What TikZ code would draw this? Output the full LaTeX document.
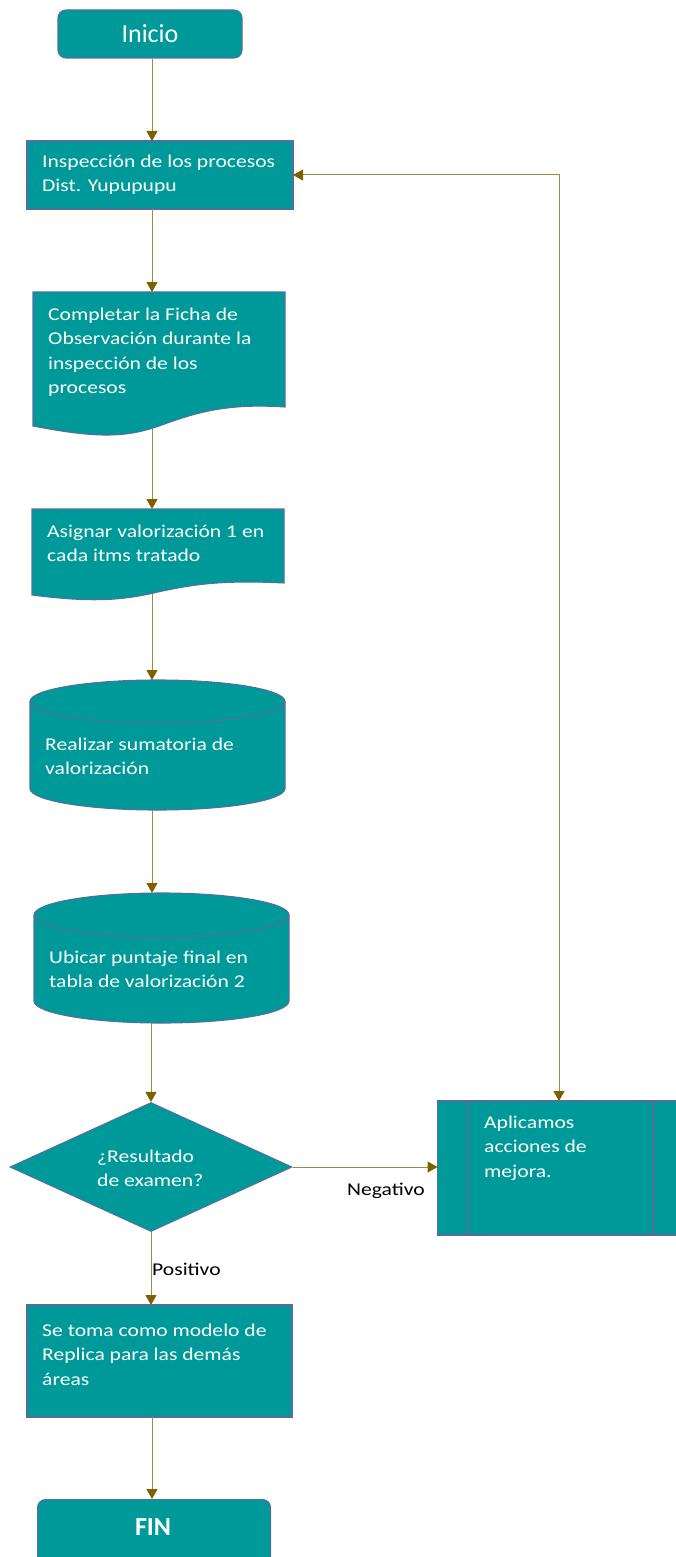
\documentclass[tikz,border=0pt]{standalone}
\usepackage{fontspec}
\setmainfont{Carlito}
\newfontfamily\wide{Carlito}[FakeStretch=1.2]
\usetikzlibrary{arrows.meta,shapes.geometric,calc}
\definecolor{teal1}{RGB}{0,153,153}
\definecolor{bord}{RGB}{84,110,160}
\definecolor{lnc}{RGB}{160,138,70}
\definecolor{tipc}{RGB}{127,96,0}
\newcommand\fl{\rule{0pt}{18pt}}
\begin{document}
\begin{tikzpicture}[x=1pt,y=-1pt,
 shp/.style={draw=bord,fill=teal1,line width=1.1pt},
 box/.style={shp,rectangle,inner sep=0pt,outer sep=0pt,anchor=north west},
 ghost/.style={rectangle,inner sep=0pt,outer sep=0pt,anchor=north west},
 txt/.style={text=white,font=\wide\fontsize{18}{24.5}\selectfont,align=left,inner sep=0pt,anchor=north west},
 lbl/.style={text=black,font=\wide\fontsize{18}{22}\selectfont,inner sep=0pt,anchor=base west},
 arr/.style={draw=lnc,line width=1pt,-{Triangle[length=10pt,width=11pt,color=tipc]}},
 big/.style={text=white,font=\fontsize{26}{30}\selectfont},
]
\useasboundingbox (0,0) rectangle (676,1557);
\clip (0,0) rectangle (676,1557);
\coordinate (ax) at (152,0);
\coordinate (fb) at (559,0);

% Inicio
\node[shp,rounded corners=8pt,minimum width=184pt,minimum height=48pt,inner sep=0pt,big] (inicio) at (150,34) {Inicio};

% Box 1
\node[box,minimum width=266pt,minimum height=68pt] (box1) at (27,141) {};
\node[txt] (t1) at (42,149) {\fl Inspección de los procesos\\Dist. Yupupupu};

% Document 1
\node[ghost,minimum width=252pt,minimum height=136pt] (doc1) at (33,292) {};
\draw[shp] (doc1.north west) -- (doc1.north east) -- (285,407)
  .. controls (225,403) and (195,413) .. (159,426)
  .. controls (125,438) and (95,438) .. (33,426) -- cycle;
\node[txt] (t2) at (48,302) {\fl Completar la Ficha de\\Observación durante la\\inspección de los\\procesos};

% Document 2
\node[ghost,minimum width=252pt,minimum height=85pt] (doc2) at (32,509) {};
\draw[shp] (doc2.north west) -- (doc2.north east) -- (284,583)
  .. controls (224,580) and (194,584) .. (158,592)
  .. controls (124,600) and (94,603) .. (32,595) -- cycle;
\node[txt] (t3) at (47,519) {\fl Asignar valorización 1 en\\cada itms tratado};

% Cylinder 1
\node[ghost,minimum width=255pt,minimum height=130pt] (cyl1) at (30,680) {};
\draw[shp] (30,701.5) -- (30,788.5) arc[start angle=180,end angle=360,x radius=127.5pt,y radius=21.5pt]
  -- (285,701.5) arc[start angle=0,end angle=180,x radius=127.5pt,y radius=21.5pt] -- cycle;
\draw[draw=bord,line width=1.1pt] (30,701.5) arc[start angle=180,end angle=360,x radius=127.5pt,y radius=21.5pt];
\node[txt] (t4) at (45,732) {\fl Realizar sumatoria de\\valorización};

% Cylinder 2
\node[ghost,minimum width=255pt,minimum height=130pt] (cyl2) at (34,893) {};
\draw[shp] (34,915) -- (34,1001) arc[start angle=180,end angle=360,x radius=127.5pt,y radius=22pt]
  -- (289,915) arc[start angle=0,end angle=180,x radius=127.5pt,y radius=22pt] -- cycle;
\draw[draw=bord,line width=1.1pt] (34,915) arc[start angle=180,end angle=360,x radius=127.5pt,y radius=22pt];
\node[txt] (t5) at (49,945) {\fl Ubicar puntaje final en\\tabla de valorización 2};

% Decision
\node[shp,diamond,minimum width=282pt,minimum height=129pt,inner sep=0pt] (dia) at (151,1167) {};
\node[txt] (t6) at (97,1144) {\fl ¿Resultado\\de examen?};

% Predefined process
\node[box,minimum width=240pt,minimum height=134pt] (proc) at (437.5,1101) {};
\draw[draw=bord,line width=1.1pt] ([xshift=30.5pt]proc.north west) -- ([xshift=30.5pt]proc.south west);
\draw[draw=bord,line width=1.1pt] ([xshift=215.5pt]proc.north west) -- ([xshift=215.5pt]proc.south west);
\node[txt] (t7) at (484,1110) {\fl Aplicamos\\acciones de\\mejora.};

% Box 2
\node[box,minimum width=265pt,minimum height=112pt] (box2) at (27,1305) {};
\node[txt] (t8) at (42,1318) {\fl Se toma como modelo de\\Replica para las demás\\áreas};

% FIN
\node[shp,rounded corners=8pt,anchor=north west,minimum width=233pt,minimum height=70pt,inner sep=0pt] (fin) at (37,1499) {};
\node[big,font=\fontsize{26}{30}\selectfont\bfseries,anchor=base,inner sep=0pt] (fint) at (153,1535) {FIN};

% Connectors
\draw[arr] (inicio.south -| ax) -- (box1.north -| ax);
\draw[arr] (box1.south -| ax) -- (doc1.north -| ax);
\draw[arr] (doc1.south -| ax) -- (doc2.north -| ax);
\draw[arr] (doc2.south -| ax) -- (cyl1.north -| ax);
\draw[arr] (cyl1.south -| ax) -- (cyl2.north -| ax);
\draw[arr] (cyl2.south -| dia.north) -- (dia.north);
\draw[arr] (dia.east) -- (dia.east -| proc.west);
\draw[arr] (dia.south) -- (dia.south |- box2.north);
\draw[arr] (box2.south -| ax) -- (fin.north -| ax);
\draw[draw=lnc,line width=1pt,{Triangle[length=10pt,width=11pt,color=tipc]}-{Triangle[length=10pt,width=11pt,color=tipc]}]
  (box1.east) -- (box1.east -| fb) -- (fb |- proc.north);

% Labels
\node[lbl] (neg) at (347,1195) {Negativo};
\node[lbl] (pos) at (152,1275) {Positivo};
\end{tikzpicture}
\end{document}
